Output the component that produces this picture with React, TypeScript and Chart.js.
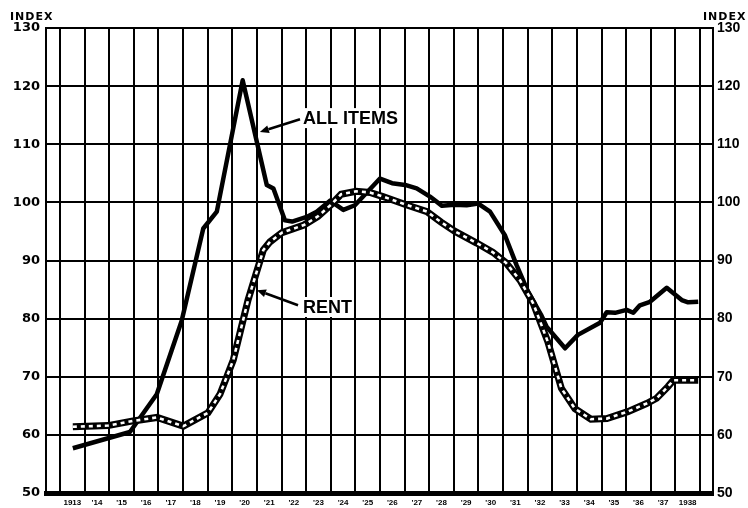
import React, { useEffect, useRef } from "react";
import { Chart, registerables } from "chart.js";

Chart.register(...registerables);

// ---- Data ----
const yearLabels = [
  "1913", "'14", "'15", "'16", "'17", "'18", "'19", "'20", "'21", "'22", "'23", "'24", "'25",
  "'26", "'27", "'28", "'29", "'30", "'31", "'32", "'33", "'34", "'35", "'36", "'37", "1938",
];
const firstYear = 1913;
const yTicks = [50, 60, 70, 80, 90, 100, 110, 120, 130];

const allItemsDates = [
  1913.52, 1915.84, 1916.93, 1917.94, 1918.82, 1919.37, 1920.42, 1921.40, 1921.67, 1922.14,
  1922.43, 1923.02, 1923.43, 1923.97, 1924.51, 1924.98, 1926.0, 1926.49, 1927.02, 1927.49,
  1928.03, 1928.52, 1929.01, 1929.52, 1929.99, 1930.47, 1931.08, 1931.55, 1932.01, 1932.54,
  1932.77, 1933.52, 1934.04, 1934.94, 1935.21, 1935.55, 1936.02, 1936.29, 1936.56, 1936.97,
  1937.65, 1938.26, 1938.52, 1938.93,
];
const allItemsValues = [
  57.7, 60.5, 67.0, 79.6, 95.5, 98.4, 121.0, 103.0, 102.4, 96.9,
  96.7, 97.5, 98.4, 100.3, 98.7, 99.5, 104.1, 103.3, 103.0, 102.4,
  101.0, 99.4, 99.6, 99.5, 99.8, 98.4, 94.3, 89.2, 84.7, 80.7,
  78.6, 74.9, 77.2, 79.3, 81.1, 81.0, 81.5, 81.0, 82.3, 82.9,
  85.3, 83.2, 82.8, 82.9,
];

const rentDates = [
  1913.52, 1914.95, 1915.97, 1916.94, 1918.01, 1919.01, 1919.50, 1920.04, 1920.64, 1921.26,
  1921.53, 1922.02, 1922.91, 1923.48, 1924.01, 1924.42, 1925.03, 1925.59, 1926.12, 1927.06,
  1927.91, 1928.48, 1929.05, 1929.93, 1930.59, 1931.12, 1931.69, 1932.23, 1932.82, 1933.37,
  1933.92, 1934.57, 1935.22, 1936.07, 1936.83, 1937.24, 1937.70, 1937.92, 1938.93,
];
const rentValues = [
  61.4, 61.6, 62.4, 63.0, 61.5, 63.8, 67.0, 72.9, 83.2, 91.8,
  93.2, 94.8, 96.1, 97.6, 99.6, 101.4, 101.9, 101.7, 101.0, 99.6,
  98.4, 96.6, 95.0, 93.0, 91.4, 89.6, 86.6, 82.6, 76.0, 68.0,
  64.5, 62.7, 62.8, 64.0, 65.4, 66.3, 68.3, 69.4, 69.4,
];

const seriesNames = ["ALL ITEMS", "RENT"];
const axisTitle = "INDEX";

// label anchors in data space: [textX, textY, arrowFromX, arrowFromY, arrowToX, arrowToY]
const labelAnchors = [
  [1922.87, 114.5, 1922.75, 114.3, 1921.12, 112.1],
  [1922.87, 82.0, 1922.67, 82.3, 1921.0, 84.9],
];

const toPoints = (xs: number[], ys: number[]) => xs.map((x, i) => ({ x, y: ys[i] }));

const annotationPlugin = {
  id: "annot",
  afterDatasetsDraw(chart: any) {
    const ctx = chart.ctx as CanvasRenderingContext2D;
    const xs = chart.scales.x;
    const ys = chart.scales.y;
    ctx.save();
    labelAnchors.forEach((a, i) => {
      const tx = xs.getPixelForValue(a[0]);
      const ty = ys.getPixelForValue(a[1]);
      const fx = xs.getPixelForValue(a[2]);
      const fy = ys.getPixelForValue(a[3]);
      const hx = xs.getPixelForValue(a[4]);
      const hy = ys.getPixelForValue(a[5]);
      ctx.font = "bold 18px 'Liberation Sans', Arial, sans-serif";
      const w = ctx.measureText(seriesNames[i]).width;
      ctx.fillStyle = "#fff";
      ctx.fillRect(tx - 2, ty - 10, w + 4, 20);
      ctx.fillStyle = "#000";
      ctx.textBaseline = "middle";
      ctx.textAlign = "left";
      ctx.fillText(seriesNames[i], tx, ty + 1);
      // arrow
      const ang = Math.atan2(hy - fy, hx - fx);
      const headLen = 9;
      const bx = hx - headLen * Math.cos(ang);
      const by = hy - headLen * Math.sin(ang);
      ctx.strokeStyle = "#000";
      ctx.lineWidth = 2.5;
      ctx.beginPath();
      ctx.moveTo(fx, fy);
      ctx.lineTo(bx, by);
      ctx.stroke();
      ctx.beginPath();
      ctx.moveTo(hx, hy);
      ctx.lineTo(bx + 4 * Math.sin(ang), by - 4 * Math.cos(ang));
      ctx.lineTo(bx - 4 * Math.sin(ang), by + 4 * Math.cos(ang));
      ctx.closePath();
      ctx.fill();
    });
    // INDEX titles
    const area = chart.chartArea;
    ctx.font = "bold 11px 'DejaVu Sans', sans-serif";
    (ctx as any).letterSpacing = "1px";
    ctx.textBaseline = "alphabetic";
    ctx.textAlign = "left";
    ctx.fillText(axisTitle, area.left - 36, area.top - 8);
    ctx.fillText(axisTitle, area.right - 10, area.top - 8);
    ctx.restore();
  },
};

export default function App() {
  const ref = useRef<HTMLCanvasElement>(null);

  useEffect(() => {
    if (!ref.current) return;
    const tickValues: number[] = [];
    for (let i = 0; i <= yearLabels.length; i++) {
      tickValues.push(firstYear + i);
      if (i < yearLabels.length) tickValues.push(firstYear + i + 0.5);
    }
    const isBoundary = (v: number) => Math.abs(v - Math.round(v)) < 0.01;

    const chart = new Chart(ref.current, {
      type: "line",
      data: {
        datasets: [
          {
            label: seriesNames[1] + " dashes",
            data: toPoints(rentDates, rentValues),
            borderColor: "#fff",
            borderWidth: 2.6,
            borderDash: [4, 4],
            borderCapStyle: "butt",
            pointRadius: 0,
            tension: 0,
            fill: false,
          },
          {
            label: seriesNames[1],
            data: toPoints(rentDates, rentValues),
            borderColor: "#000",
            borderWidth: 7,
            pointRadius: 0,
            tension: 0,
            fill: false,
          },
          {
            label: seriesNames[0],
            data: toPoints(allItemsDates, allItemsValues),
            borderColor: "#000",
            borderWidth: 4.5,
            borderJoinStyle: "round",
            pointRadius: 0,
            tension: 0,
            fill: false,
          },
        ],
      },
      options: {
        responsive: false,
        animation: false,
        devicePixelRatio: 1,
        layout: { padding: { top: 28, left: 0, right: 0, bottom: 0 } },
        plugins: { legend: { display: false }, tooltip: { enabled: false } },
        scales: {
          x: {
            type: "linear",
            min: 1912.43,
            max: 1939.53,
            afterBuildTicks: (scale: any) => {
              scale.ticks = tickValues.map((v) => ({ value: v }));
            },
            afterFit: (scale: any) => {
              scale.height = 15;
            },
            grid: {
              color: (c: any) => (c.tick && isBoundary(c.tick.value) ? "#000" : "rgba(0,0,0,0)"),
              lineWidth: 2,
              drawTicks: false,
            },
            border: { display: true, color: "#000", width: 5 },
            ticks: {
              autoSkip: false,
              maxRotation: 0,
              padding: 5,
              color: "#000",
              font: { family: "'Liberation Sans', Arial, sans-serif", size: 8, weight: "bold" },
              callback: (v: any) => {
                const n = Number(v);
                if (isBoundary(n)) return "";
                const idx = Math.round(n - firstYear - 0.5);
                return yearLabels[idx] ?? "";
              },
            },
          },
          y: {
            position: "left",
            min: 50,
            max: 130,
            afterBuildTicks: (scale: any) => {
              scale.ticks = yTicks.map((v) => ({ value: v }));
            },
            afterFit: (scale: any) => {
              scale.width = 46;
            },
            grid: { color: "#000", lineWidth: 2, drawTicks: false },
            border: { display: true, color: "#000", width: 2 },
            ticks: {
              padding: 6,
              color: "#000",
              font: { family: "'DejaVu Sans', sans-serif", size: 13, weight: "bold" },
            },
          },
          y2: {
            position: "right",
            min: 50,
            max: 130,
            afterBuildTicks: (scale: any) => {
              scale.ticks = yTicks.map((v) => ({ value: v }));
            },
            afterFit: (scale: any) => {
              scale.width = 35;
            },
            grid: { display: false, drawTicks: false },
            border: { display: true, color: "#000", width: 2 },
            ticks: {
              padding: 4,
              color: "#000",
              font: { family: "'Liberation Sans', Arial, sans-serif", size: 14, weight: "bold" },
            },
          },
        },
      },
      plugins: [annotationPlugin],
    } as any);
    return () => chart.destroy();
  }, []);

  return (
    <div style={{ position: "absolute", left: 0, top: 0, width: 748, height: 508, background: "#fff" }}>
      <canvas ref={ref} width={748} height={508} style={{ display: "block" }} />
    </div>
  );
}
